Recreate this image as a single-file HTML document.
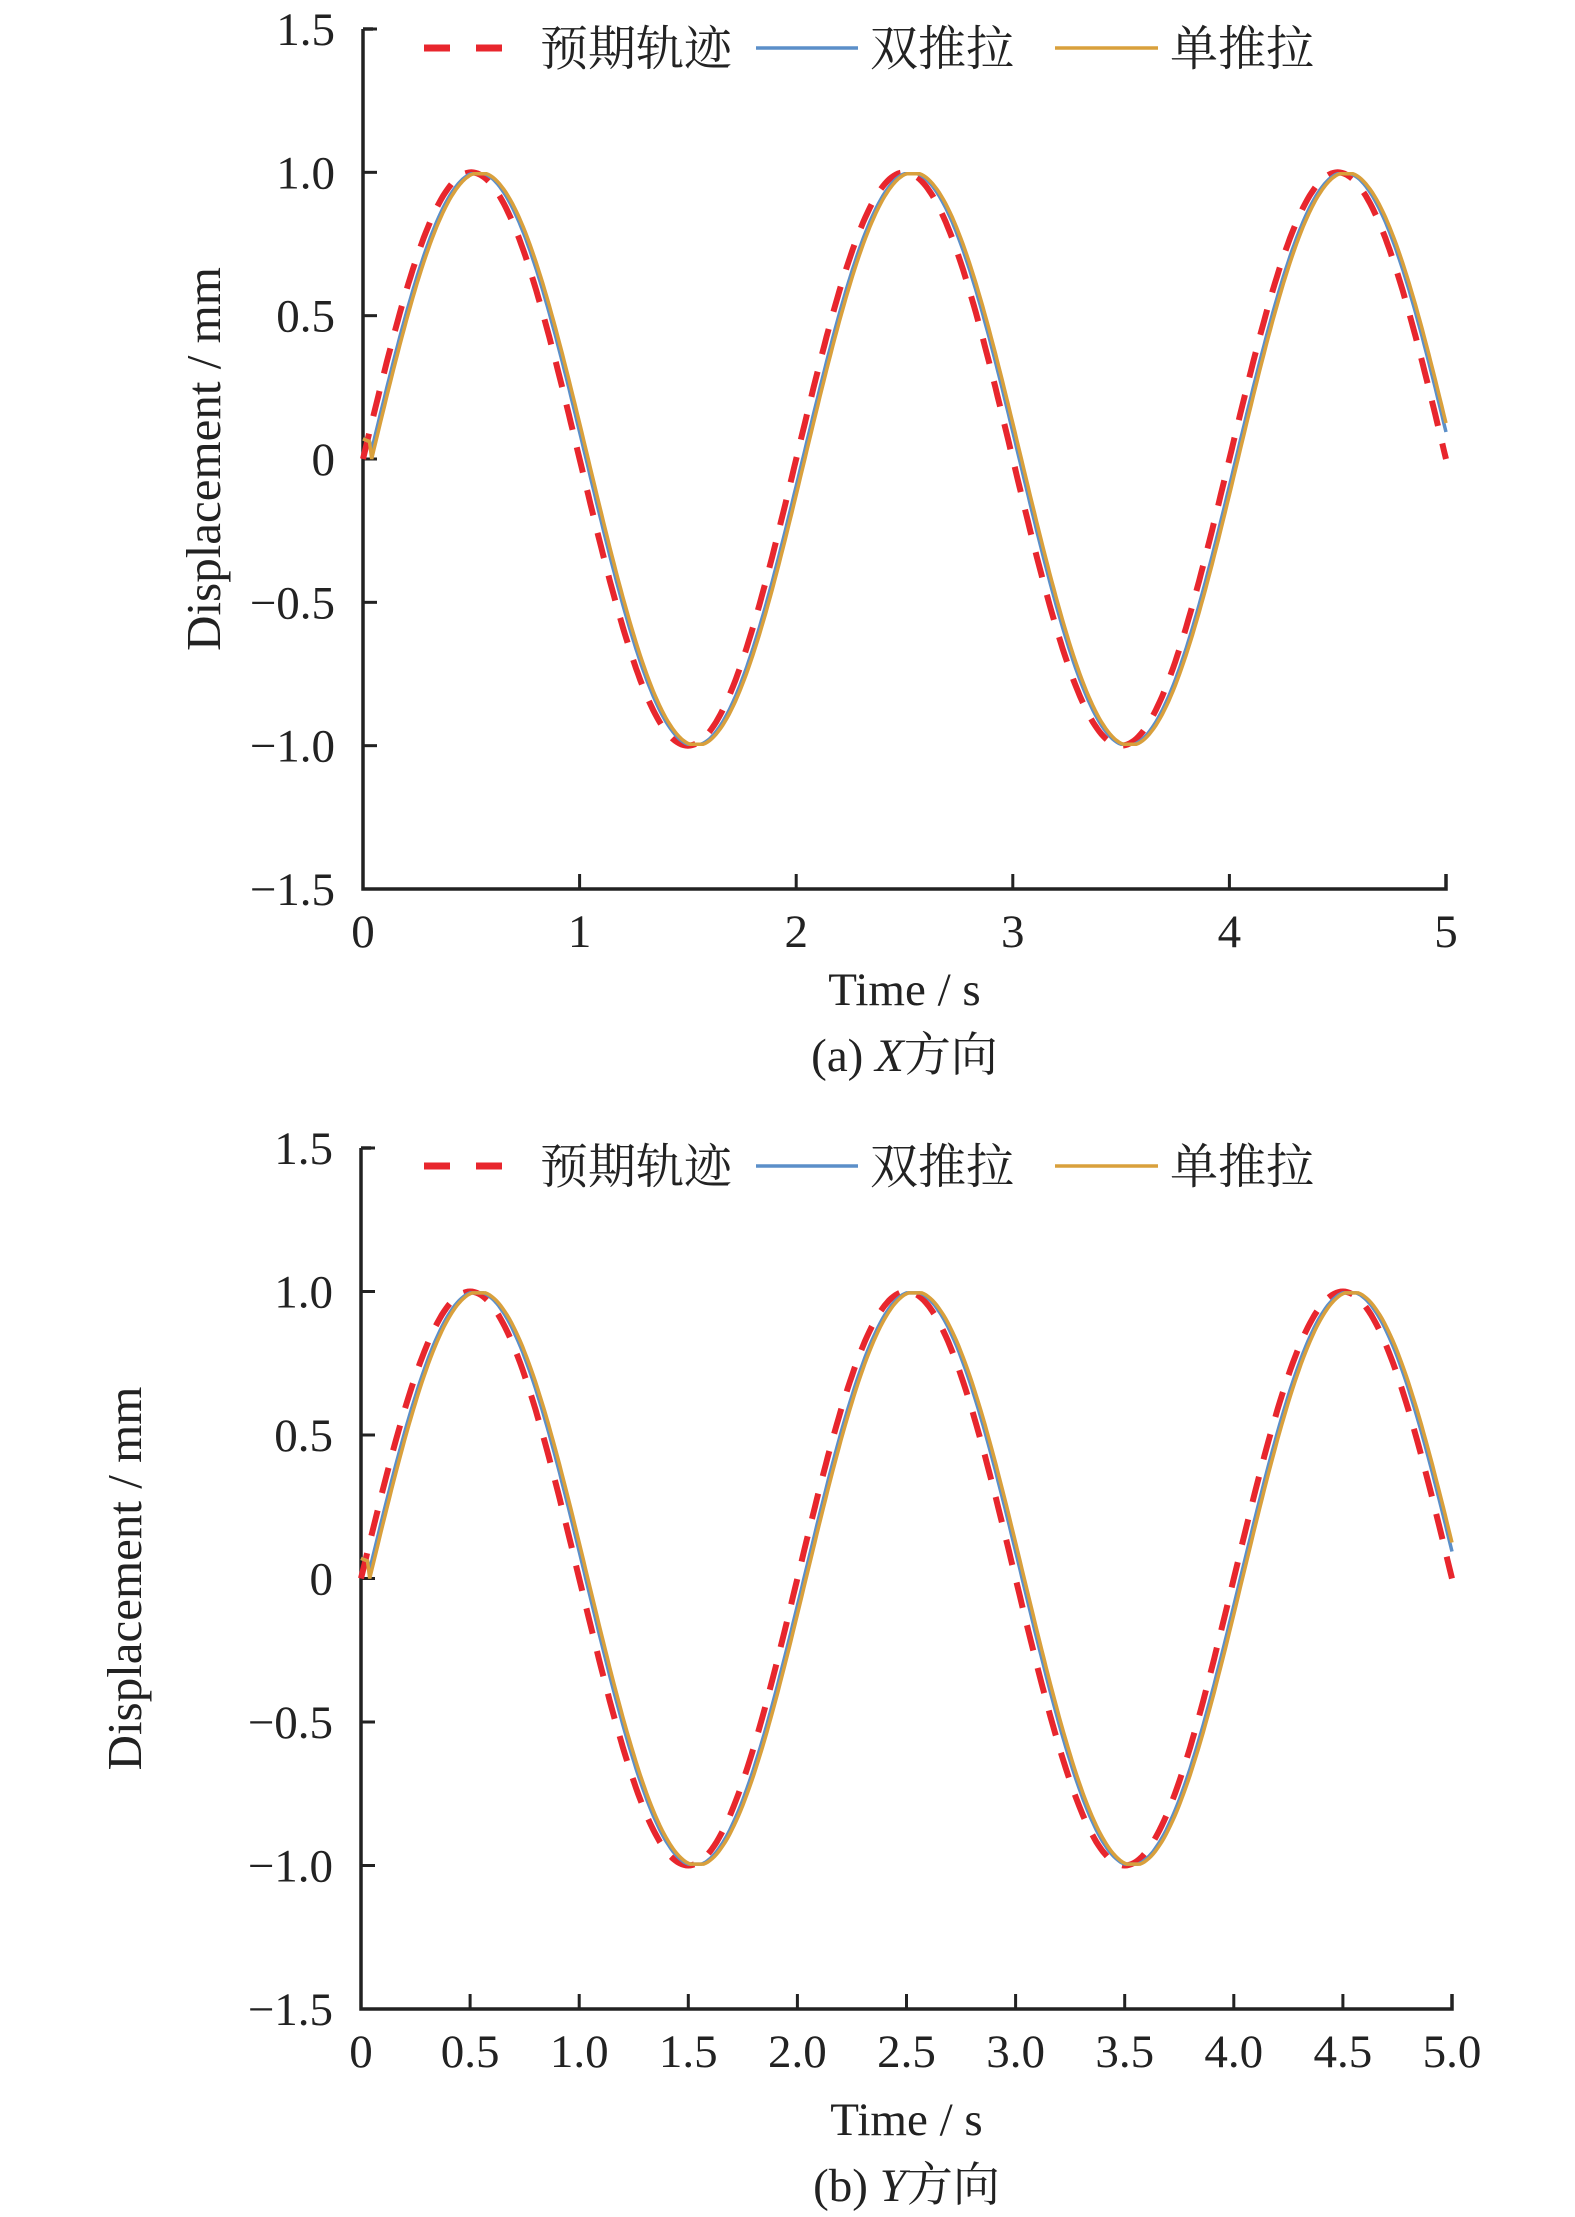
<!DOCTYPE html>
<html><head><meta charset="utf-8"><style>
body{margin:0;background:#fff;width:1575px;height:2212px;overflow:hidden}
svg text{font-family:"Liberation Serif","Noto Serif CJK SC",serif;fill:#222}
</style></head><body>
<svg id="s" width="1575" height="2212" xmlns="http://www.w3.org/2000/svg"></svg>
<script>
const s=document.getElementById('s');let h='';
function chart(x0,x1,y0,y1,xt,cap,capIt,lx,ly,off){
 const X=t=>x0+(x1-x0)*t/5, Y=v=>y1+(y0-y1)*(v+1.5)/3;
 [-1.5,-1,-0.5,0,0.5,1,1.5].forEach(v=>{const y=Y(v);
  h+=`<line x1="${x0}" x2="${x0+14}" y1="${y}" y2="${y}" stroke="#222" stroke-width="3"/>`;
  let l=v==0?'0':(v<0?'\u2212':'')+Math.abs(v).toFixed(1);
  h+=`<text x="${x0-28}" y="${y+16}" font-size="47" text-anchor="end">${l}</text>`;});
 xt.forEach(t=>{const x=X(t);
  h+=`<line x1="${x}" x2="${x}" y1="${y1}" y2="${y1-15}" stroke="#222" stroke-width="3"/>`;
  let l=xt.length>6?(t==0?'0':t.toFixed(1)):String(t);
  h+=`<text x="${x}" y="${y1+58}" font-size="47" text-anchor="middle">${l}</text>`;});
 h+=`<path d="M${x0} ${y0}H${x0+10}M${x0} ${y0}V${y1}H${x1}V${y1-15}" fill="none" stroke="#222" stroke-width="3.5"/>`;
 const p=(f)=>{let d='';for(let i=0;i<=500;i++){let t=5*i/500;d+=(i?'L':'M')+X(t).toFixed(1)+' '+Y(f(t)).toFixed(1);}return d;};
 const act=lag=>t=>{let v=Math.sin(Math.PI*(t-lag));if(t<0.04)v=0.07-0.3*t;return Math.max(-0.995,Math.min(0.995,v))};
 h+=`<path d="${p(t=>Math.sin(Math.PI*t))}" fill="none" stroke="#e8262d" stroke-width="6" stroke-dasharray="26 18"/>`;
 h+=`<path d="${p(act(0.03))}" fill="none" stroke="#5b8fc9" stroke-width="3.5"/>`;
 h+=`<path d="${p(act(0.04))}" fill="none" stroke="#d9a03c" stroke-width="3.5"/>`;
 h+=`<line x1="424" x2="505" y1="${ly}" y2="${ly}" stroke="#e8262d" stroke-width="7" stroke-dasharray="26 26"/>`;
 h+=`<text x="540" y="${ly+17}" font-size="48">预期轨迹</text>`;
 h+=`<line x1="756" x2="858" y1="${ly}" y2="${ly}" stroke="#5b8fc9" stroke-width="3.5"/>`;
 h+=`<text x="870" y="${ly+17}" font-size="48">双推拉</text>`;
 h+=`<line x1="1055" x2="1158" y1="${ly}" y2="${ly}" stroke="#d9a03c" stroke-width="3.5"/>`;
 h+=`<text x="1170" y="${ly+17}" font-size="48">单推拉</text>`;
 h+=`<text x="${lx}" y="${(y0+y1)/2}" font-size="49" text-anchor="middle" transform="rotate(-90 ${lx} ${(y0+y1)/2})" dy="16">Displacement / mm</text>`;
 h+=`<text x="${(x0+x1)/2}" y="${y1+116+off}" font-size="47" text-anchor="middle">Time / s</text>`;
 h+=`<text x="${(x0+x1)/2}" y="${y1+182+off}" font-size="47" text-anchor="middle">(${cap}) <tspan font-style="italic">${capIt}</tspan>方向</text>`;
}
chart(363,1446,29,889,[0,1,2,3,4,5],'a','X',204,48,0);
chart(361,1452,1148,2009,[0,0.5,1,1.5,2,2.5,3,3.5,4,4.5,5],'b','Y',125,1166,10);
s.innerHTML=h;
</script>
</body></html>
